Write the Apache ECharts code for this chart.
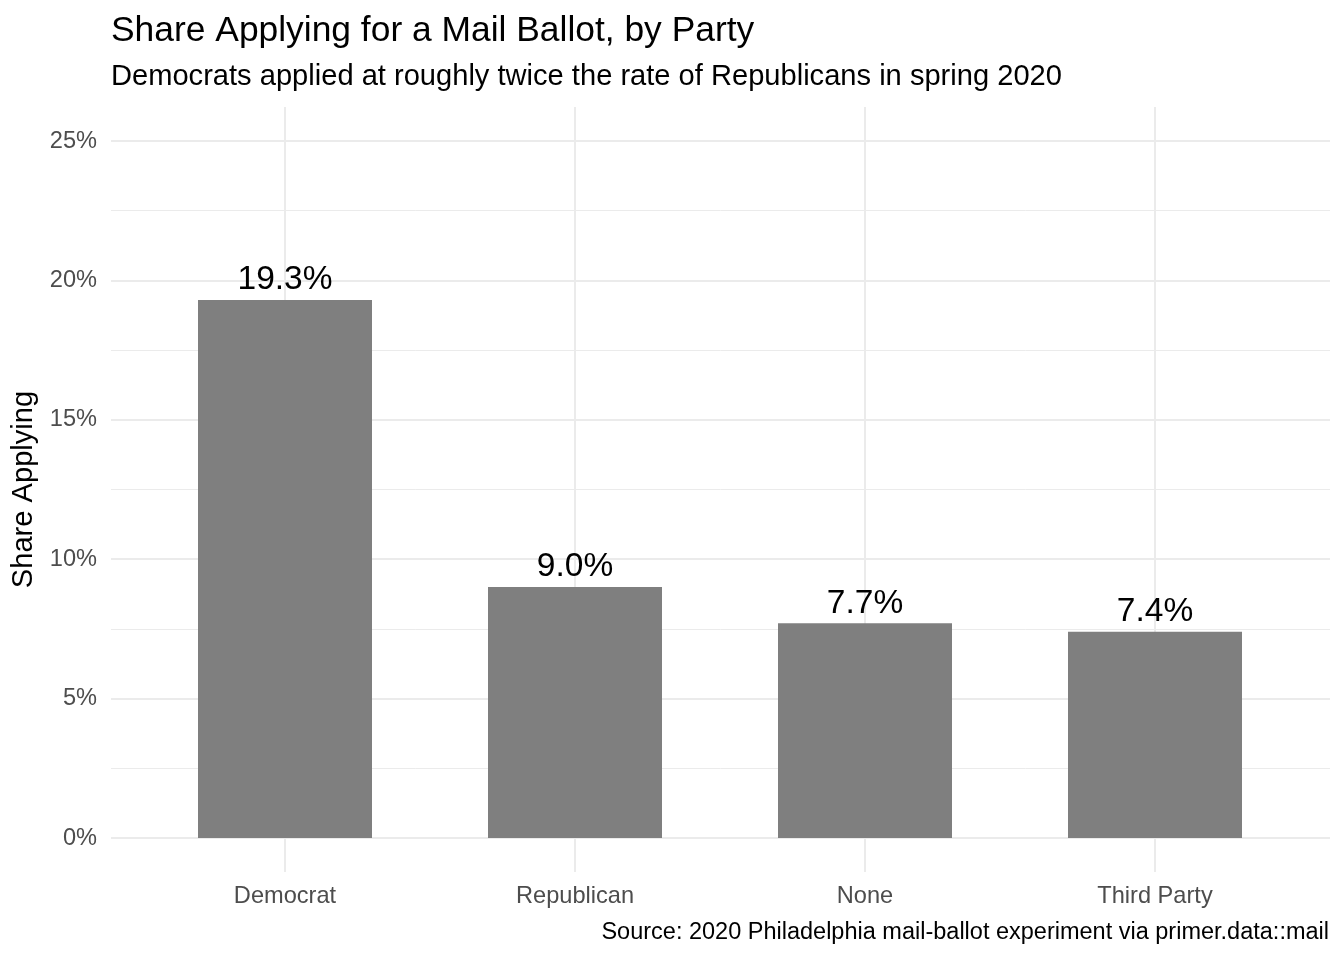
<!DOCTYPE html>
<html style="height: 100%">
<head>
    <meta charset="utf-8">
</head>
<body style="height: 100%; margin: 0; background: #fff">
<div id="container" style="width: 1344px; height: 960px"></div>

<script type="text/javascript" src="https://cdn.jsdelivr.net/npm/echarts@6/dist/echarts.min.js"></script>
<script type="text/javascript">
    // share of voters applying for a mail ballot, by party (percent)
    var parties = ['Democrat', 'Republican', 'None', 'Third Party'];
    var shareApplying = [19.3, 9.0, 7.7, 7.4];
    var yTicks = [0, 5, 10, 15, 20, 25];

    var FONT = 'Liberation Sans, Arial, sans-serif';
    var GRID = '#ebebeb';

    var dom = document.getElementById('container');
    var myChart = echarts.init(dom);

    var option = {
        backgroundColor: '#ffffff',
        animation: false,
        textStyle: { fontFamily: FONT },
        title: [{
            text: 'Share Applying for a Mail Ballot, by Party',
            left: 111,
            top: 13,
            padding: 0,
            textStyle: { fontFamily: FONT, fontSize: 35.4, fontWeight: 'normal', color: '#000', lineHeight: 36 }
        }, {
            text: 'Democrats applied at roughly twice the rate of Republicans in spring 2020',
            left: 111,
            top: 62,
            padding: 0,
            textStyle: { fontFamily: FONT, fontSize: 29.1, fontWeight: 'normal', color: '#000', lineHeight: 30 }
        }, {
            text: 'Source: 2020 Philadelphia mail-ballot experiment via primer.data::mail',
            right: 15,
            top: 921,
            padding: 0,
            textStyle: { fontFamily: FONT, fontSize: 23.5, fontWeight: 'normal', color: '#000', lineHeight: 24 }
        }],
        grid: [
            // bars
            { left: 140, right: 44, top: 141, bottom: 122 },
            // horizontal gridlines and y labels (full panel width)
            { left: 111, right: 14, top: 141, bottom: 122 },
            // vertical gridlines (full panel height)
            { left: 285, right: 189, top: 107, bottom: 88 }
        ],
        xAxis: [{
            gridIndex: 0,
            type: 'category',
            data: parties,
            axisLine: { show: false },
            axisTick: { show: false },
            splitLine: { show: false },
            axisLabel: { margin: 46, fontSize: 23.6, color: '#4d4d4d', fontFamily: FONT }
        }, {
            gridIndex: 1,
            type: 'value',
            min: 0,
            max: 1,
            show: false
        }, {
            gridIndex: 2,
            type: 'value',
            min: 0,
            max: parties.length - 1,
            interval: 1,
            axisLine: { show: false },
            axisTick: { show: false },
            axisLabel: { show: false },
            splitLine: { show: true, lineStyle: { color: GRID, width: 2 } }
        }],
        yAxis: [{
            gridIndex: 0,
            type: 'value',
            min: yTicks[0],
            max: yTicks[yTicks.length - 1],
            show: false
        }, {
            gridIndex: 1,
            type: 'value',
            min: yTicks[0],
            max: yTicks[yTicks.length - 1],
            interval: 5,
            name: 'Share Applying',
            nameLocation: 'middle',
            nameRotate: 90,
            nameGap: 72,
            nameTextStyle: { fontSize: 29.1, color: '#000', fontFamily: FONT },
            axisLine: { show: false },
            axisTick: { show: false },
            axisLabel: {
                margin: 14,
                fontSize: 23.6,
                color: '#4d4d4d',
                fontFamily: FONT,
                padding: [7, 0, 0, 0],
                formatter: function (v) { return v + '%'; }
            },
            splitLine: { show: true, lineStyle: { color: GRID, width: 2 } },
            minorTick: { show: false, splitNumber: 2 },
            minorSplitLine: { show: true, lineStyle: { color: GRID, width: 1 } }
        }, {
            gridIndex: 2,
            type: 'value',
            show: false
        }],
        series: [{
            type: 'bar',
            xAxisIndex: 0,
            yAxisIndex: 0,
            data: shareApplying,
            barWidth: '60%',
            itemStyle: { color: '#7f7f7f' },
            label: {
                show: true,
                position: 'top',
                distance: 3,
                fontSize: 33.5,
                color: '#000',
                fontFamily: FONT,
                formatter: function (p) { return p.value.toFixed(1) + '%'; }
            }
        }]
    };

    myChart.setOption(option);
</script>
</body>
</html>
